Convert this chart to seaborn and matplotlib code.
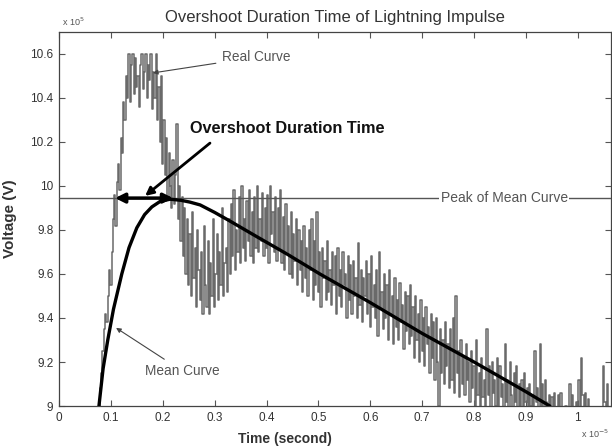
import numpy as np
import pandas as pd
import matplotlib
matplotlib.use("Agg")
import matplotlib.pyplot as plt
import seaborn as sns

# ---------------- data (times in units of 1e-5 s, voltages in units of 1e5 V)
real_t_start = 0.075
real_t_step = 0.0025
real_v = [
    # 0.075 - 0.1225
    8.95, 9.00, 9.08, 9.15, 9.25, 9.35, 9.42, 9.38, 9.50, 9.62, 9.55, 9.70, 9.85, 9.96, 9.82, 10.02, 10.10, 9.98, 10.22, 10.15,
    # 0.125 - 0.1725
    10.38, 10.30, 10.50, 10.40, 10.60, 10.38, 10.55, 10.60, 10.42, 10.58, 10.45, 10.50, 10.36, 10.55, 10.60, 10.44, 10.52, 10.60, 10.40, 10.55,
    # 0.175 - 0.2225
    10.48, 10.60, 10.35, 10.52, 10.40, 10.60, 10.30, 10.45, 10.20, 10.50, 10.10, 10.30, 10.05, 10.22, 9.95, 10.15, 10.00, 9.90, 10.12, 9.92,
    # 0.225 - 0.2725
    10.05, 10.28, 9.85, 10.00, 9.75, 9.95, 9.68, 9.90, 9.60, 9.85, 9.55, 9.78, 9.50, 9.88, 9.58, 9.72, 9.45, 9.80, 9.62, 9.48,
    # 0.275 - 0.3225
    9.70, 9.42, 9.82, 9.55, 9.45, 9.75, 9.42, 9.65, 9.50, 9.85, 9.45, 9.60, 9.78, 9.48, 9.70, 9.55, 9.90, 9.50, 9.65, 9.72,
    # 0.325 - 0.3725
    9.52, 9.85, 9.60, 9.92, 9.68, 9.98, 9.62, 9.80, 9.70, 9.95, 9.65, 10.00, 9.72, 9.85, 9.66, 9.93, 9.75, 9.98, 9.68, 9.88,
    # 0.375 - 0.4225
    9.65, 9.95, 9.72, 10.00, 9.70, 9.85, 9.75, 9.97, 9.68, 9.90, 9.72, 9.96, 9.65, 10.00, 9.78, 9.88, 9.70, 9.95, 9.66, 9.90,
    # 0.425 - 0.4725
    9.72, 9.98, 9.65, 9.86, 9.62, 9.92, 9.70, 9.82, 9.60, 9.88, 9.58, 9.78, 9.66, 9.85, 9.55, 9.80, 9.62, 9.75, 9.52, 9.82,
    # 0.475 - 0.5225
    9.58, 9.72, 9.50, 9.80, 9.62, 9.85, 9.48, 9.75, 9.55, 9.88, 9.52, 9.70, 9.45, 9.72, 9.58, 9.66, 9.48, 9.75, 9.52, 9.62,
    # 0.525 - 0.5725
    9.46, 9.70, 9.55, 9.68, 9.42, 9.72, 9.50, 9.62, 9.45, 9.70, 9.55, 9.60, 9.40, 9.68, 9.48, 9.64, 9.42, 9.66, 9.50, 9.58,
    # 0.575 - 0.6225
    9.40, 9.74, 9.46, 9.62, 9.38, 9.58, 9.50, 9.66, 9.42, 9.60, 9.36, 9.68, 9.45, 9.55, 9.40, 9.62, 9.32, 9.70, 9.44, 9.52,
    # 0.625 - 0.6725
    9.35, 9.60, 9.40, 9.55, 9.30, 9.62, 9.42, 9.50, 9.28, 9.58, 9.36, 9.48, 9.30, 9.56, 9.38, 9.46, 9.26, 9.52, 9.34, 9.50,
    # 0.675 - 0.7225
    9.28, 9.55, 9.32, 9.45, 9.22, 9.50, 9.30, 9.42, 9.20, 9.48, 9.25, 9.40, 9.18, 9.45, 9.28, 9.36, 9.15, 9.42, 9.22, 9.38,
    # 0.725 - 0.7725
    9.12, 9.40, 9.20, 9.00, 9.35, 9.15, 9.30, 9.10, 9.38, 9.18, 9.28, 9.08, 9.35, 9.12, 9.40, 9.06, 9.50, 9.15, 9.25, 9.04,
    # 0.775 - 0.8225
    9.30, 9.10, 9.22, 9.05, 9.28, 9.12, 9.20, 9.02, 9.25, 9.08, 9.18, 8.98, 9.30, 9.05, 9.15, 8.96, 9.22, 9.04, 9.12, 8.98,
    # 0.825 - 0.8725
    9.35, 9.05, 9.18, 8.98, 9.20, 9.06, 9.12, 9.00, 9.22, 8.98, 9.18, 9.04, 9.10, 8.98, 9.28, 9.02, 9.12, 8.97, 9.20, 9.05,
    # 0.875 - 0.9225
    8.98, 9.15, 9.02, 9.18, 8.97, 9.10, 9.00, 9.12, 8.96, 9.15, 9.02, 9.08, 8.97, 9.10, 9.00, 9.05, 8.97, 9.25, 9.02, 9.08,
    # 0.925 - 0.9725
    8.98, 9.28, 9.00, 9.10, 8.97, 9.12, 9.02, 8.98, 9.05, 8.97, 9.04, 8.96, 9.06, 8.98, 8.95, 9.05, 8.97, 9.06, 8.96, 8.95,
    # 0.975 - 1.0225
    8.94, 9.00, 8.96, 8.95, 9.10, 8.97, 9.05, 8.96, 8.95, 9.02, 8.95, 9.12, 9.00, 9.22, 9.05, 8.96, 9.06, 8.95, 9.03, 8.94,
    # 1.025 - 1.065
    8.95, 8.93, 8.96, 8.94, 8.95, 8.93, 8.95, 8.94, 8.96, 8.95, 9.18, 9.02, 8.96, 9.10, 8.97, 8.95, 8.96,
]

mean_t = [0.077, 0.085, 0.094, 0.105, 0.121, 0.135, 0.150, 0.165, 0.179, 0.195,
          0.214, 0.235, 0.252, 0.272, 0.300, 0.330, 0.381, 0.440, 0.503, 0.600,
          0.700, 0.800, 0.900, 0.946]
mean_v = [9.00, 9.17, 9.30, 9.44, 9.60, 9.72, 9.81, 9.87, 9.905, 9.93,
          9.94, 9.935, 9.927, 9.914, 9.88, 9.84, 9.77, 9.69, 9.60, 9.47,
          9.33, 9.20, 9.065, 9.00]

peak_mean = 9.945
overshoot_start = 0.108
overshoot_end = 0.220

x_ticks = [0, 0.1, 0.2, 0.3, 0.4, 0.5, 0.6, 0.7, 0.8, 0.9, 1.0]
x_tick_labels = ["0", "0.1", "0.2", "0.3", "0.4", "0.5", "0.6", "0.7", "0.8", "0.9", "1"]
y_ticks = [9.0, 9.2, 9.4, 9.6, 9.8, 10.0, 10.2, 10.4, 10.6]
y_tick_labels = ["9", "9.2", "9.4", "9.6", "9.8", "10", "10.2", "10.4", "10.6"]

# ---------------- figure
sns.set_theme(style="ticks")
plt.rcParams["font.family"] = ["Liberation Sans", "DejaVu Sans"]

real_t = np.round(real_t_start + real_t_step * np.arange(len(real_v)), 5)
real_df = pd.DataFrame({"t": real_t, "v": real_v})
mean_df = pd.DataFrame({"t": mean_t, "v": mean_v})

fig = plt.figure(figsize=(6.12, 4.46), dpi=100)
ax = fig.add_axes([59 / 612, 40 / 446, 552 / 612, 374 / 446])

txt = "#333333"

sns.lineplot(data=real_df, x="t", y="v", ax=ax, estimator=None, sort=True,
             color="#6a6a6a", linewidth=1.1, drawstyle="steps-mid", zorder=2)
ax.axhline(peak_mean, color="#555555", linewidth=1.0, zorder=3)
sns.lineplot(data=mean_df, x="t", y="v", ax=ax, estimator=None, sort=True,
             color="black", linewidth=2.4, zorder=4)

ax.set_xlim(0, 1.064)
ax.set_ylim(9.0, 10.70)
ax.set_xticks(x_ticks)
ax.set_xticklabels(x_tick_labels)
ax.set_yticks(y_ticks)
ax.set_yticklabels(y_tick_labels)
ax.tick_params(direction="in", length=4, width=0.8, colors="#555555",
               labelcolor=txt, labelsize=8.5, top=True, right=True, pad=4)
for s in ax.spines.values():
    s.set_color("#444444")
    s.set_linewidth(0.9)

ax.set_xlabel("Time (second)", fontsize=10, fontweight="bold", color=txt)
ax.set_ylabel("Voltage (V)", fontsize=11, fontweight="bold", color=txt)
ax.xaxis.set_label_coords(0.41, -0.07)
ax.yaxis.set_label_coords(-0.076, 0.5)

ax.text(0.5, 1.04, "Overshoot Duration Time of Lightning Impulse",
        transform=ax.transAxes, ha="center", va="center", fontsize=12, color=txt)
ax.text(0.005, 1.027, r"x 10$^{5}$", transform=ax.transAxes, ha="left",
        va="center", fontsize=6.5, color="#555555")
ax.text(0.946, -0.075, r"x 10$^{-5}$", transform=ax.transAxes, ha="left",
        va="center", fontsize=6.5, color="#555555")

# peak label
ax.text(0.858, peak_mean, "Peak of Mean Curve", ha="center", va="center",
        fontsize=10, color="#555555", zorder=5,
        bbox=dict(facecolor="white", edgecolor="none", pad=1.0))

# overshoot double arrow
ax.annotate("", xy=(overshoot_start, peak_mean), xytext=(overshoot_end, peak_mean),
            arrowprops=dict(arrowstyle="<|-|>", lw=2.5, color="black",
                            mutation_scale=14, shrinkA=0, shrinkB=0), zorder=6)
ax.text(0.44, 10.26, "Overshoot Duration Time", ha="center", va="center",
        fontsize=11.7, fontweight="bold", color="#111111")
ax.annotate("", xy=(0.166, 9.955), xytext=(0.291, 10.195),
            arrowprops=dict(arrowstyle="-|>", lw=2.0, color="black",
                            mutation_scale=12, shrinkA=0, shrinkB=0), zorder=6)

# curve labels
ax.annotate("Real Curve", xy=(0.181, 10.514), xytext=(0.314, 10.586),
            ha="left", va="center", fontsize=9.8, color="#555555",
            arrowprops=dict(arrowstyle="-|>", lw=0.8, color="#444444",
                            mutation_scale=7, shrinkA=2, shrinkB=0))
ax.annotate("Mean Curve", xy=(0.110, 9.355), xytext=(0.166, 9.159),
            ha="left", va="center", fontsize=9.8, color="#555555",
            arrowprops=dict(arrowstyle="-|>", lw=0.8, color="#444444",
                            mutation_scale=7, shrinkA=2, shrinkB=0))

fig.savefig("out.png", dpi=100)
